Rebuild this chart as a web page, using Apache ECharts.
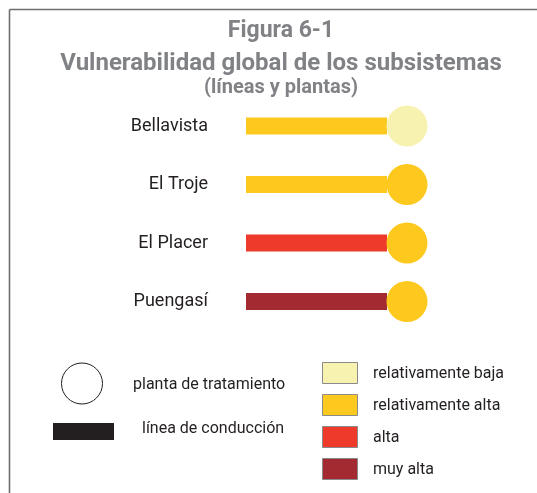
<!DOCTYPE html>
<html>
<head>
<meta charset="utf-8">
<script src="https://cdn.jsdelivr.net/npm/echarts@6/dist/echarts.min.js"></script>
<style>
  html, body { margin: 0; padding: 0; background: #fff; }
  #chart { width: 537px; height: 493px; }
</style>
</head>
<body>
<div id="chart"></div>
<script>
// Subsystems and their vulnerability levels (pipeline and treatment plant)
const subsystems = ['Bellavista', 'El Troje', 'El Placer', 'Puengasí'];
const lineLength = [1, 1, 1, 1];
const lineLevel = ['relativamente alta', 'relativamente alta', 'alta', 'muy alta'];
const plantLevel = ['relativamente baja', 'relativamente alta', 'relativamente alta', 'relativamente alta'];

// Vulnerability scale shown in the legend
const levels = ['relativamente baja', 'relativamente alta', 'alta', 'muy alta'];
const levelColors = {
  'relativamente baja': '#f8f2b0',
  'relativamente alta': '#fdc91f',
  'alta': '#ee3a2b',
  'muy alta': '#a42a31'
};

const titleLines = ['Figura 6-1', 'Vulnerabilidad global de los subsistemas', '(líneas y plantas)'];
const symbolLabels = ['planta de tratamiento', 'línea de conducción'];

const FONT = 'Roboto, "Liberation Sans", sans-serif';
const TITLE_COLOR = '#808285';
const TEXT_COLOR = '#231f20';

const chart = echarts.init(document.getElementById('chart'), null, { renderer: 'canvas' });

const graphics = [];
// frame (top and left rules)
graphics.push({ type: 'line', shape: { x1: 9.5, y1: 9.5, x2: 537, y2: 9.5 }, style: { stroke: '#6d6e70', lineWidth: 1.6 } });
graphics.push({ type: 'line', shape: { x1: 9.5, y1: 9.5, x2: 9.5, y2: 493 }, style: { stroke: '#6d6e70', lineWidth: 1.6 } });

// title block
const titleY = [31, 63.5, 88];
const titleSize = [23, 24, 20];
titleLines.forEach((t, i) => {
  graphics.push({
    type: 'text', x: 281, y: titleY[i],
    style: { text: t, font: 'bold ' + titleSize[i] + 'px ' + FONT, fill: TITLE_COLOR, align: 'center', verticalAlign: 'middle' }
  });
});

// symbol legend
graphics.push({ type: 'circle', shape: { cx: 82, cy: 383.5, r: 20.5 }, style: { fill: '#fff', stroke: TEXT_COLOR, lineWidth: 1 } });
graphics.push({ type: 'rect', shape: { x: 53, y: 423, width: 61, height: 17 }, style: { fill: TEXT_COLOR } });
graphics.push({ type: 'text', x: 133, y: 385, style: { text: symbolLabels[0], font: '16px ' + FONT, fill: TEXT_COLOR, verticalAlign: 'middle' } });
graphics.push({ type: 'text', x: 142, y: 429, style: { text: symbolLabels[1], font: '16px ' + FONT, fill: TEXT_COLOR, verticalAlign: 'middle' } });

// colour legend
levels.forEach((lv, i) => {
  const y = 362 + i * 32;
  graphics.push({ type: 'rect', shape: { x: 322.5, y: y + 0.5, width: 35, height: 21 }, style: { fill: levelColors[lv], stroke: '#8a8a8a', lineWidth: 1 } });
  graphics.push({ type: 'text', x: 373, y: y + 12, style: { text: lv, font: '16px ' + FONT, fill: TEXT_COLOR, verticalAlign: 'middle' } });
});

const option = {
  animation: false,
  backgroundColor: '#fff',
  grid: { left: 246, right: 150, top: 96.75, bottom: 162.25 },
  xAxis: { type: 'value', min: 0, max: 1, show: false },
  yAxis: {
    type: 'category', data: subsystems, inverse: true,
    axisLine: { show: false }, axisTick: { show: false }, splitLine: { show: false },
    axisLabel: { margin: 38, fontSize: 18, fontFamily: FONT, color: TEXT_COLOR }
  },
  series: [
    {
      name: 'línea de conducción', type: 'bar', barWidth: 17,
      data: lineLength.map((v, i) => ({ value: v, itemStyle: { color: levelColors[lineLevel[i]] } })),
      z: 2
    },
    {
      name: 'planta de tratamiento', type: 'scatter', symbol: 'circle', symbolSize: 41, symbolOffset: [20, 0],
      data: lineLength.map((v, i) => ({ value: [v, subsystems[i]], itemStyle: { color: levelColors[plantLevel[i]], opacity: 1 } })),
      z: 3
    }
  ],
  graphic: graphics
};
chart.setOption(option);
</script>
</body>
</html>
